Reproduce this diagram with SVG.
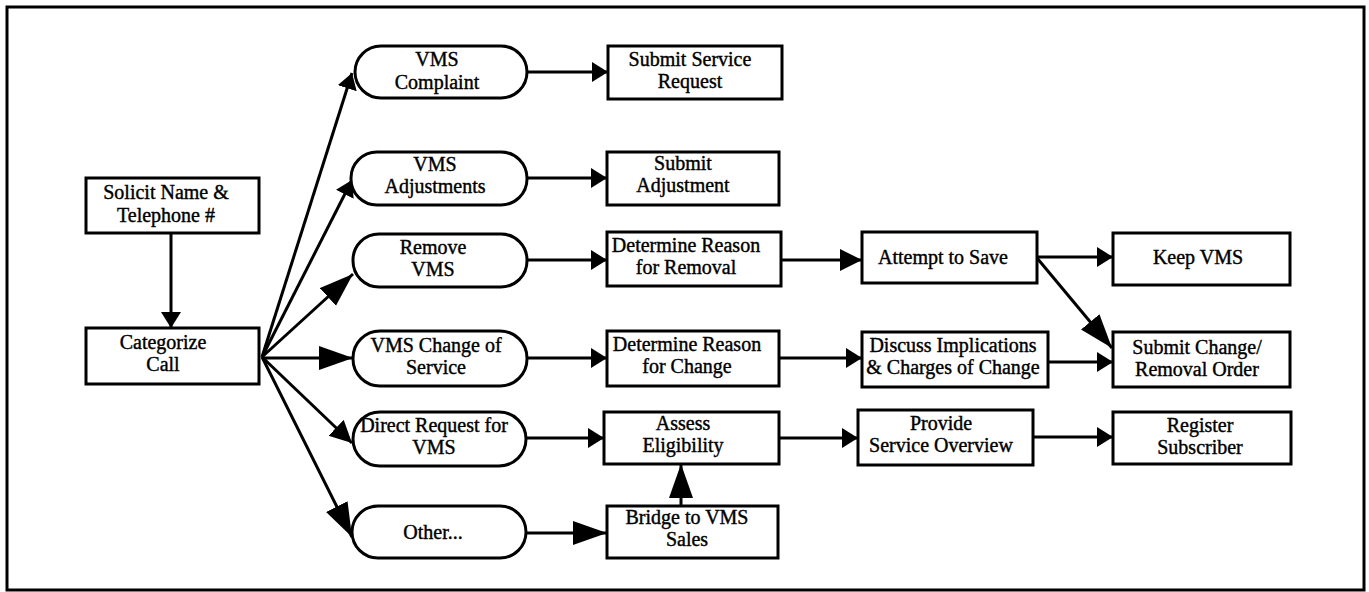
<svg xmlns="http://www.w3.org/2000/svg" width="1369" height="592" viewBox="0 0 1369 592">
<style>
  .box{fill:#fff;stroke:#000;stroke-width:3}
  .t{font-family:"Liberation Serif","Times New Roman",serif;font-size:20px;fill:#000;text-anchor:middle;stroke:#000;stroke-width:0.4}
  .c{stroke:#000;stroke-width:3;fill:none}
</style>
<defs>
  <marker id="s" markerUnits="userSpaceOnUse" markerWidth="18" markerHeight="22" refX="16" refY="10" orient="auto"><path d="M0,0 L16,10 L0,20 Z" fill="#000"/></marker>
  <marker id="m" markerUnits="userSpaceOnUse" markerWidth="24" markerHeight="24" refX="22" refY="11" orient="auto"><path d="M0,0 L22,11 L0,22 Z" fill="#000"/></marker>
  <marker id="l" markerUnits="userSpaceOnUse" markerWidth="36" markerHeight="28" refX="34" refY="12" orient="auto"><path d="M0,0 L34,12 L0,24 Z" fill="#000"/></marker>
</defs>
<rect x="0" y="0" width="1369" height="592" fill="#fff"/>
<rect x="7" y="7" width="1357" height="583" fill="none" stroke="#000" stroke-width="3"/>

<g id="connectors">
  <line class="c" x1="171" y1="233" x2="171" y2="328" marker-end="url(#s)"/>
  <line class="c" x1="262" y1="357" x2="352" y2="73" marker-end="url(#s)"/>
  <line class="c" x1="262" y1="357" x2="352" y2="180" marker-end="url(#s)"/>
  <line class="c" x1="262" y1="357" x2="353" y2="274" marker-end="url(#l)"/>
  <line class="c" x1="262" y1="358" x2="353" y2="358" marker-end="url(#l)"/>
  <line class="c" x1="262" y1="357" x2="352" y2="443" marker-end="url(#m)"/>
  <line class="c" x1="262" y1="357" x2="352" y2="537" marker-end="url(#l)"/>
  <line class="c" x1="527" y1="72" x2="608" y2="72" marker-end="url(#s)"/>
  <line class="c" x1="527" y1="178" x2="607" y2="178" marker-end="url(#s)"/>
  <line class="c" x1="527" y1="260" x2="607" y2="260" marker-end="url(#s)"/>
  <line class="c" x1="781" y1="260" x2="862" y2="260" marker-end="url(#m)"/>
  <line class="c" x1="1037" y1="257" x2="1113" y2="257" marker-end="url(#s)"/>
  <line class="c" x1="1037" y1="258" x2="1112" y2="348" marker-end="url(#l)"/>
  <line class="c" x1="527" y1="358" x2="607" y2="358" marker-end="url(#s)"/>
  <line class="c" x1="779" y1="358" x2="862" y2="358" marker-end="url(#s)"/>
  <line class="c" x1="1048" y1="362" x2="1113" y2="362" marker-end="url(#s)"/>
  <line class="c" x1="526" y1="438" x2="604" y2="438" marker-end="url(#s)"/>
  <line class="c" x1="779" y1="438" x2="858" y2="438" marker-end="url(#s)"/>
  <line class="c" x1="1033" y1="437" x2="1113" y2="437" marker-end="url(#s)"/>
  <line class="c" x1="526" y1="533" x2="607" y2="533" marker-end="url(#l)"/>
  <line class="c" x1="681" y1="506" x2="681" y2="464" marker-end="url(#l)"/>
</g>

<g id="solicit"><rect class="box" x="86" y="178" width="173" height="55"/><text class="t" x="166" y="199">Solicit Name &amp;</text><text class="t" x="166" y="222">Telephone #</text></g>
<g id="categorize"><rect class="box" x="86" y="328" width="173" height="56"/><text class="t" x="163" y="349">Categorize</text><text class="t" x="163" y="371">Call</text></g>

<g id="vms-complaint"><rect class="box" x="355" y="46" width="172" height="52" rx="26"/><text class="t" x="437" y="66">VMS</text><text class="t" x="437" y="89">Complaint</text></g>
<g id="vms-adjustments"><rect class="box" x="351" y="152" width="176" height="53" rx="26"/><text class="t" x="435" y="171">VMS</text><text class="t" x="435" y="193">Adjustments</text></g>
<g id="remove-vms"><rect class="box" x="353" y="234" width="174" height="53" rx="26"/><text class="t" x="433" y="254">Remove</text><text class="t" x="433" y="276">VMS</text></g>
<g id="vms-change"><rect class="box" x="353" y="331" width="174" height="55" rx="27"/><text class="t" x="436" y="352">VMS Change of</text><text class="t" x="436" y="374">Service</text></g>
<g id="direct-request"><rect class="box" x="353" y="412" width="173" height="54" rx="27"/><text class="t" x="434" y="432">Direct Request for</text><text class="t" x="434" y="454">VMS</text></g>
<g id="other"><rect class="box" x="352" y="506" width="174" height="52" rx="26"/><text class="t" x="433" y="539">Other...</text></g>

<g id="submit-service-request"><rect class="box" x="608" y="46" width="174" height="53"/><text class="t" x="690" y="66">Submit Service</text><text class="t" x="690" y="88">Request</text></g>
<g id="submit-adjustment"><rect class="box" x="607" y="152" width="172" height="53"/><text class="t" x="683" y="170">Submit</text><text class="t" x="683" y="192">Adjustment</text></g>
<g id="reason-removal"><rect class="box" x="607" y="232" width="174" height="54"/><text class="t" x="686" y="252">Determine Reason</text><text class="t" x="686" y="274">for Removal</text></g>
<g id="reason-change"><rect class="box" x="607" y="331" width="172" height="55"/><text class="t" x="687" y="351">Determine Reason</text><text class="t" x="687" y="373">for Change</text></g>
<g id="assess"><rect class="box" x="604" y="412" width="175" height="52"/><text class="t" x="683" y="430">Assess</text><text class="t" x="683" y="452">Eligibility</text></g>
<g id="bridge"><rect class="box" x="607" y="506" width="171" height="52"/><text class="t" x="687" y="524">Bridge to VMS</text><text class="t" x="687" y="546">Sales</text></g>

<g id="attempt"><rect class="box" x="862" y="232" width="175" height="51"/><text class="t" x="943" y="264">Attempt to Save</text></g>
<g id="discuss"><rect class="box" x="862" y="332" width="186" height="55"/><text class="t" x="953" y="352">Discuss Implications</text><text class="t" x="953" y="374">&amp; Charges of Change</text></g>
<g id="provide"><rect class="box" x="858" y="410" width="175" height="55"/><text class="t" x="941" y="430">Provide</text><text class="t" x="941" y="452">Service Overview</text></g>

<g id="keep-vms"><rect class="box" x="1113" y="233" width="177" height="52"/><text class="t" x="1198" y="264">Keep VMS</text></g>
<g id="submit-change"><rect class="box" x="1113" y="332" width="177" height="55"/><text class="t" x="1197" y="354">Submit Change/</text><text class="t" x="1197" y="376">Removal Order</text></g>
<g id="register"><rect class="box" x="1113" y="412" width="178" height="52"/><text class="t" x="1200" y="432">Register</text><text class="t" x="1200" y="454">Subscriber</text></g>
</svg>
